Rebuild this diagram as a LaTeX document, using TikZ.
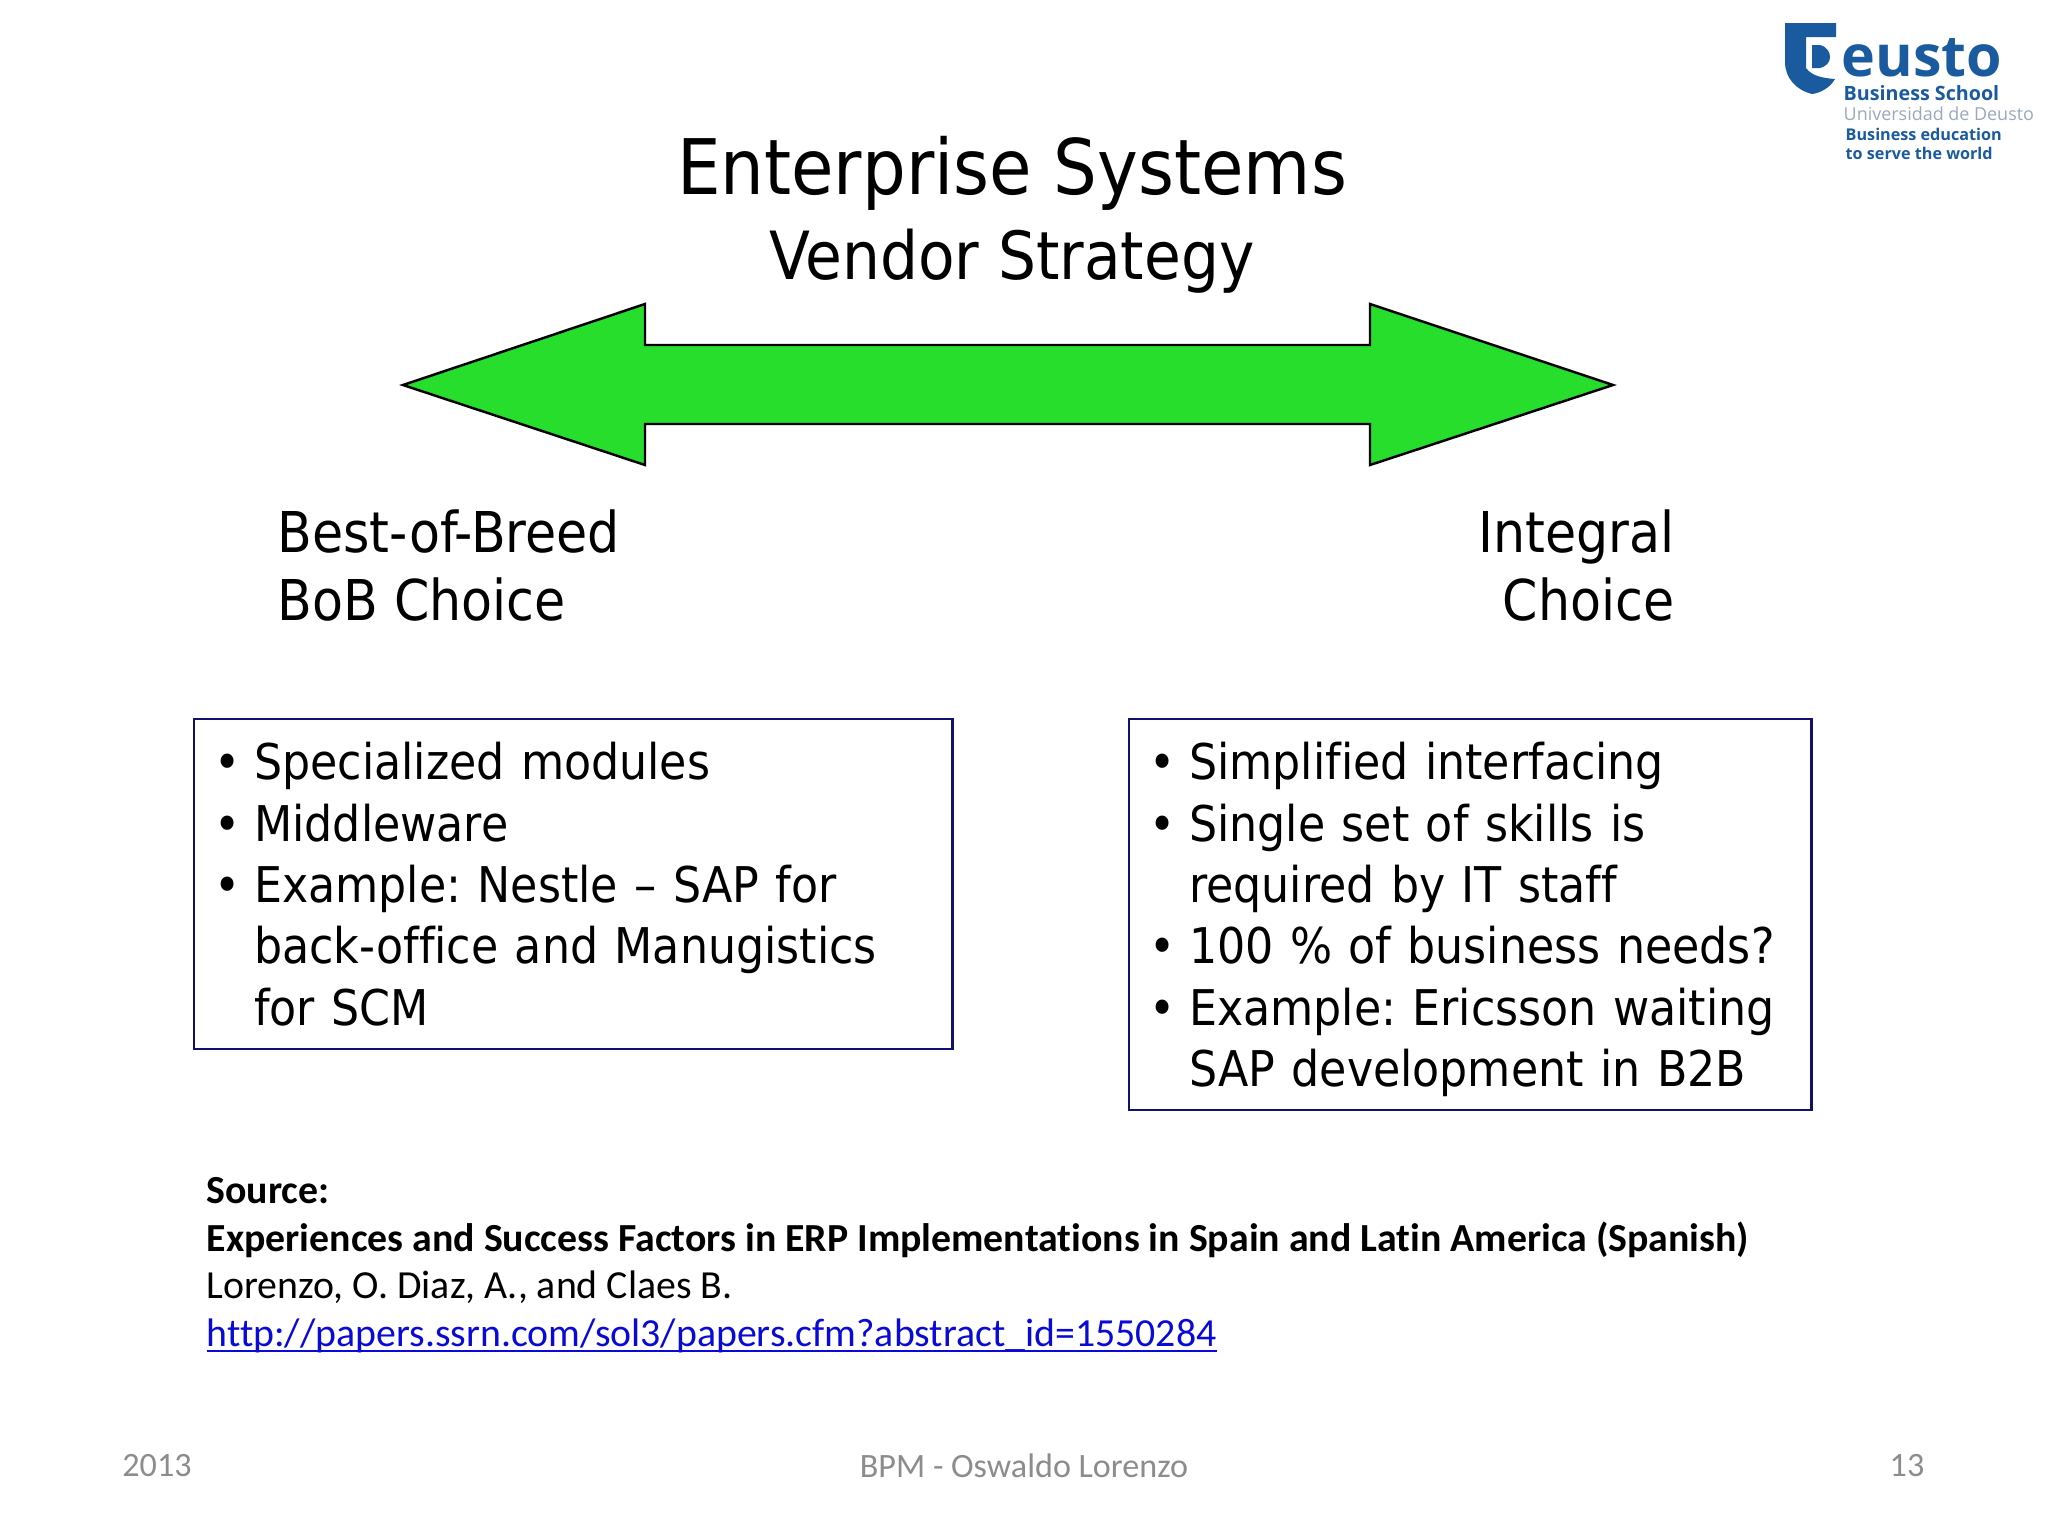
\documentclass[tikz,border=0pt]{standalone}
\usepackage{fontspec}
\usepackage{xcolor}
\setmainfont[Ligatures=NoCommon]{DejaVu Sans Condensed}
\newfontfamily\sourcefont[Ligatures=NoCommon]{Carlito}
\newfontfamily\logofont{Open Sans}
\definecolor{arrowgreen}{HTML}{26DE2B}
\definecolor{boxnavy}{HTML}{10106E}
\definecolor{linkblue}{HTML}{0A0AD8}
\definecolor{footgray}{HTML}{8C8C8C}
\definecolor{logoblue}{HTML}{1A5A9E}
\definecolor{logogray}{HTML}{9AA8BC}
\newcommand{\bul}{\makebox[0.40cm][l]{\textbullet}}
\newcommand{\cont}{\hspace*{0.40cm}}
\frenchspacing
\tikzset{
	headline/.style={font=\fontsize{21.8}{26}\selectfont},
	subline/.style={font=\fontsize{18.9}{23}\selectfont},
	choice/.style={font=\fontsize{16}{19.35}\selectfont,inner sep=0pt},
	listbox/.style={draw=boxnavy,line width=0.7pt,anchor=north west,align=left,inner xsep=0.20cm,inner ysep=0.23cm,font=\fontsize{14}{17.47}\selectfont},
	sourceline/.style={anchor=base west,inner sep=0pt,font=\sourcefont\fontsize{11.32}{13}\selectfont},
	footline/.style={font=\sourcefont\fontsize{9.7}{11}\selectfont,text=footgray,inner sep=0pt},
	logoline/.style={anchor=base west,inner sep=0pt,text=logoblue,font=\logofont\bfseries\fontsize{4.6}{6}\selectfont}
}
\begin{document}
\begin{tikzpicture}[x=0.01cm,y=-0.01cm]
	\useasboundingbox (0,0) rectangle (2048,1536);

	\node[headline] (title) at (1012,173) {Enterprise Systems};
	\node[subline] (subtitle) at (1012,261) {Vendor Strategy};

	\draw[fill=arrowgreen,line width=0.7pt,line join=miter] (403,385) -- (645,304) -- (645,345) -- (1370,345) -- (1370,304) -- (1613,385) -- (1370,465) -- (1370,424) -- (645,424) -- (645,465) -- cycle;

	\node[choice,anchor=north west,align=left] (bob) at (277,509) {Best-of-Breed\\BoB Choice};
	\node[choice,anchor=north east,align=right] (integral) at (1675,509) {Integral\\Choice};

	\node[listbox,text width=7.18cm] (bobbox) at (193,718) {\bul Specialized modules\\\bul Middleware\\\bul Example: Nestle – SAP for\\\cont back-office and Manugistics\\\cont for SCM};
	\node[listbox,text width=6.42cm] (integralbox) at (1128,718) {\bul Simplified interfacing\\\bul Single set of skills is\\\cont required by IT staff\\\bul 100 \% of business needs?\\\bul Example: Ericsson waiting\\\cont \smash{SAP development in B2B}};

	\node[sourceline] (sourcehead) at (206,1203) {\bfseries Source:};
	\node[sourceline] (sourcetitle) at (206,1251) {\bfseries Experiences and Success Factors in ERP Implementations in Spain and Latin America (Spanish)};
	\node[sourceline] (sourceauthors) at (206,1298) {Lorenzo, O. Diaz, A., and Claes B.};
	\node[sourceline,text=linkblue] (sourcelink) at (206,1346) {\underline{\smash{http://papers.ssrn.com/sol3/papers.cfm?abstract\_id=1550284}}};

	\node[footline] (footyear) at (157,1466) {2013};
	\node[footline] (footname) at (1024,1466) {BPM - Oswaldo Lorenzo};
	\node[footline] (footpage) at (1907,1466) {13};

	\fill[logoblue] (1785,23) -- (1836,23) -- (1836,37) -- (1806,37) -- (1806,68) .. controls (1812,76) and (1822,78) .. (1835,79) .. controls (1830,88) and (1820,93) .. (1812,94) .. controls (1796,90) and (1785,78) .. (1785,62) -- cycle;
	\fill[logoblue] (1812,45) -- (1820,45) .. controls (1827,47) and (1830,52) .. (1830,57) .. controls (1830,62) and (1827,66) .. (1820,68) -- (1812,68) -- cycle;
	\node[logoline,font=\logofont\bfseries\fontsize{16.3}{18}\selectfont] (logoname) at (1841,76) {eusto};
	\node[logoline,font=\logofont\bfseries\fontsize{5.6}{6}\selectfont] (logoschool) at (1843,100) {Business School};
	\node[logoline,text=logogray,font=\logofont\fontsize{5.1}{6}\selectfont] (logouni) at (1843,120) {Universidad de Deusto};
	\node[logoline] (logoedu) at (1845,140) {Business education};
	\node[logoline] (logoworld) at (1845,159) {to serve the world};
\end{tikzpicture}
\end{document}
